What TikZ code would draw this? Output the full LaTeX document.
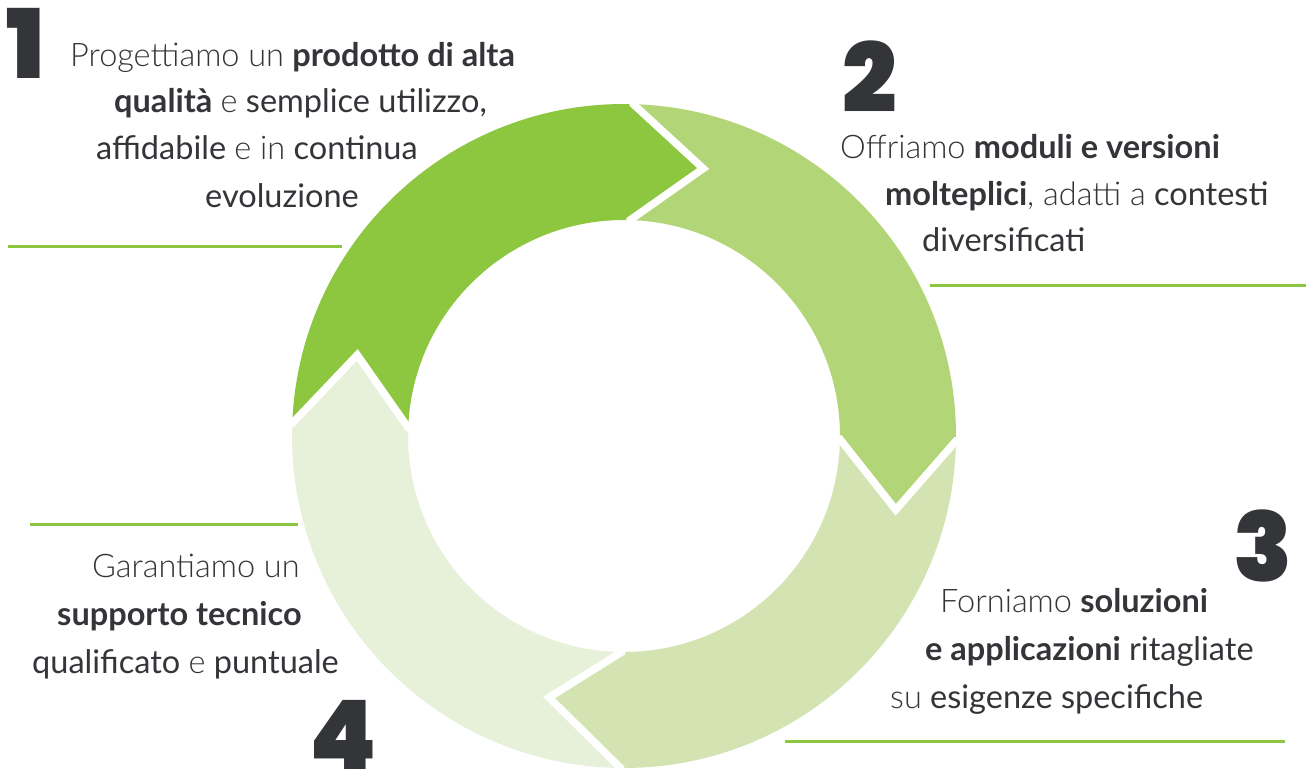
\documentclass[tikz,border=0pt]{standalone}
\usepackage{fontspec}
\setmainfont{Lato}
\newfontfamily\LatoLightFam{Lato Light}
\newfontfamily\NumFam{Poppins Black}
\definecolor{segA}{HTML}{8DC63F}
\definecolor{segB}{HTML}{B2D677}
\definecolor{segC}{HTML}{D3E4B2}
\definecolor{segD}{HTML}{E7F1D9}
\definecolor{ruleC}{HTML}{8DC63F}
\definecolor{txt}{HTML}{333539}
\newcommand{\Lg}[1]{{\LatoLightFam #1}}
\newcommand{\Bd}[1]{{\bfseries #1}}
\tikzset{
  line/.style={anchor=base west, inner sep=0pt, text=txt, font=\fontsize{32.5}{38}\selectfont},
  digit/.style={anchor=center, inner sep=0pt, text=txt, font=\NumFam\fontsize{96}{96}\selectfont},
  rulel/.style={draw=ruleC, line width=3pt},
  gapl/.style={draw=white, line width=7.5pt, line join=miter},
}
\begin{document}
\begin{tikzpicture}[x=1pt,y=1pt]
\useasboundingbox (0,0) rectangle (1306,-773);
\fill[white] (0,0) rectangle (1306,-773);
% ring
\def\Ro{332}\def\Ri{216}
\begin{scope}[shift={(624,-436)}]
\fill[segA] (177.8:\Ro) arc[start angle=177.8, end angle=88.4, radius=\Ro pt] -- (73.5:279) -- (88.4:\Ri) arc[start angle=88.4, end angle=177.8, radius=\Ri pt] -- (163.1:278.8) -- cycle;
\fill[segB] (88.4:\Ro) arc[start angle=88.4, end angle=-0.85, radius=\Ro pt] -- (-15.2:281.6) -- (-0.85:\Ri) arc[start angle=-0.85, end angle=88.4, radius=\Ri pt] -- (73.5:279) -- cycle;
\fill[segC] (-0.85:\Ro) arc[start angle=-0.85, end angle=-90.6, radius=\Ro pt] -- (-106:272) -- (-90.6:\Ri) arc[start angle=-90.6, end angle=-0.85, radius=\Ri pt] -- (-15.2:281.6) -- cycle;
\fill[segD] (-90.6:\Ro) arc[start angle=-90.6, end angle=-182.2, radius=\Ro pt] -- (163.1:278.8) -- (177.8:\Ri) arc[start angle=177.8, end angle=269.4, radius=\Ri pt] -- (-106:272) -- cycle;
\draw[gapl] (88.4:342) -- (88.4:\Ro) -- (73.5:279) -- (88.4:\Ri) -- (88.4:206);
\draw[gapl] (-0.85:342) -- (-0.85:\Ro) -- (-15.2:281.6) -- (-0.85:\Ri) -- (-0.85:206);
\draw[gapl] (-90.6:342) -- (-90.6:\Ro) -- (-106:272) -- (-90.6:\Ri) -- (-90.6:206);
\draw[gapl] (177.8:342) -- (177.8:\Ro) -- (163.1:278.8) -- (177.8:\Ri) -- (177.8:206);
\end{scope}
% rules
\coordinate (r1a) at (8,-246); \coordinate (r1b) at (342,-246);
\coordinate (r2a) at (930,-285); \coordinate (r2b) at (1306,-285);
\coordinate (r3a) at (785,-741); \coordinate (r3b) at (1285,-741);
\coordinate (r4a) at (30,-524); \coordinate (r4b) at (298,-524);
\draw[rulel] (r1a) -- (r1b);
\draw[rulel] (r2a) -- (r2b);
\draw[rulel] (r3a) -- (r3b);
\draw[rulel] (r4a) -- (r4b);
% digits
\node[digit] (d1) at (26,-43) {1};
\node[digit] (d2) at (870,-77) {2};
\node[digit] (d3) at (1263,-546) {3};
\node[digit] (d4) at (343,-735) {4};
% block 1
\node[line] (t1a) at (70,-67) {\Lg{Progettiamo un} \Bd{prodotto di alta}};
\node[line] (t1b) at (114,-113) {\Bd{qualità} \Lg{e} semplice utilizzo,};
\node[line] (t1c) at (96,-160) {affidabile \Lg{e in} continua};
\node[line] (t1d) at (205,-207) {evoluzione};
% block 2
\node[line] (t2a) at (840,-158) {\Lg{Offriamo} \Bd{moduli e versioni}};
\node[line] (t2b) at (885,-205) {\Bd{molteplici}\Lg{, adatti a} contesti};
\node[line] (t2c) at (922,-251) {diversificati};
% block 3
\node[line] (t3a) at (940,-612) {\Lg{Forniamo} \Bd{soluzioni}};
\node[line] (t3b) at (925,-660) {\Bd{e applicazioni} ritagliate};
\node[line] (t3c) at (890,-708) {\Lg{su} esigenze specifiche};
% block 4
\node[line] (t4a) at (92,-577) {\Lg{Garantiamo un}};
\node[line] (t4b) at (57,-625) {\Bd{supporto tecnico}};
\node[line] (t4c) at (32,-673) {qualificato \Lg{e} puntuale};
\end{tikzpicture}
\end{document}
